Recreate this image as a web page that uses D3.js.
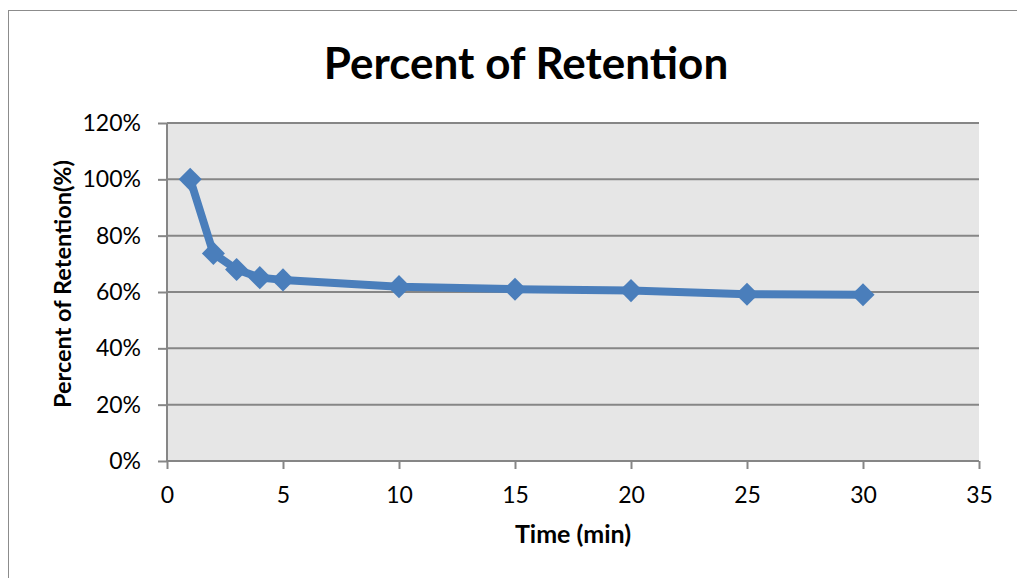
<!DOCTYPE html>
<html>
<head>
<meta charset="utf-8">
<script src="https://cdn.jsdelivr.net/npm/d3@7/dist/d3.min.js"></script>
<style>
  html, body { margin: 0; padding: 0; background: #fff; }
  svg { display: block; }
  text { font-family: Lato, "Open Sans", sans-serif; fill: #000; }
</style>
</head>
<body>
<svg id="chart" width="1017" height="578"></svg>
<script>
// ---- data ----
const times = [1, 2, 3, 4, 5, 10, 15, 20, 25, 30];
const retention = [1.00, 0.737, 0.680, 0.651, 0.643, 0.619, 0.610, 0.605, 0.592, 0.590];
const xTicks = [0, 5, 10, 15, 20, 25, 30, 35];
const yTicks = [0, 0.2, 0.4, 0.6, 0.8, 1.0, 1.2];
const chartTitle = "Percent of Retention";
const xTitle = "Time (min)";
const yTitle = "Percent of Retention(%)";

// ---- layout ----
const svg = d3.select("#chart");
const plot = { left: 167, top: 123, right: 979, bottom: 461 };

const x = d3.scaleLinear().domain([0, 35]).range([plot.left, plot.right]);
const y = d3.scaleLinear().domain([0, 1.2]).range([plot.bottom, plot.top]);

// outer chart border (only top/left visible)
svg.append("rect")
  .attr("x", 8.5).attr("y", 10.5)
  .attr("width", 1100).attr("height", 700)
  .attr("fill", "none").attr("stroke", "#8c8c8c").attr("stroke-width", 1);

// plot background
svg.append("rect")
  .attr("x", plot.left).attr("y", plot.top)
  .attr("width", plot.right - plot.left).attr("height", plot.bottom - plot.top)
  .attr("fill", "#e6e6e6");

const gridColor = "#868686";

// horizontal gridlines
svg.append("g").selectAll("line").data(yTicks.filter(d => d > 0)).join("line")
  .attr("x1", plot.left).attr("x2", plot.right)
  .attr("y1", d => y(d)).attr("y2", d => y(d))
  .attr("stroke", gridColor).attr("stroke-width", 2);

// y axis
const yAxis = d3.axisLeft(y).tickValues(yTicks)
  .tickFormat(d3.format(".0%")).tickSize(9).tickPadding(17);
const gy = svg.append("g").attr("transform", `translate(${plot.left},0)`).call(yAxis);
gy.select(".domain").attr("stroke", gridColor).attr("stroke-width", 2).attr("d", `M0,${plot.top}V${plot.bottom}`);
gy.selectAll(".tick line").attr("stroke", gridColor).attr("stroke-width", 2);
gy.selectAll(".tick text").style("font-size", "23px").attr("fill", "#000");

// x axis
const xAxis = d3.axisBottom(x).tickValues(xTicks).tickSize(8).tickPadding(18);
const gx = svg.append("g").attr("transform", `translate(0,${plot.bottom})`).call(xAxis);
gx.select(".domain").attr("stroke", gridColor).attr("stroke-width", 2).attr("d", `M${plot.left},0H${plot.right}`);
gx.selectAll(".tick line").attr("stroke", gridColor).attr("stroke-width", 2);
gx.selectAll(".tick text").style("font-size", "23px").attr("fill", "#000");

// line
const pts = times.map((t, i) => [t, retention[i]]);
const seriesColor = "#4a7ebb";
svg.append("path").datum(pts)
  .attr("fill", "none").attr("stroke", seriesColor).attr("stroke-width", 8)
  .attr("stroke-linejoin", "round")
  .attr("d", d3.line().x(d => x(d[0])).y(d => y(d[1])));

// diamond markers
const diamond = d3.symbol().type(d3.symbolDiamond2).size(340);
svg.append("g").selectAll("path").data(pts).join("path")
  .attr("transform", d => `translate(${x(d[0])},${y(d[1])})`)
  .attr("d", diamond)
  .attr("fill", seriesColor);

// titles
svg.append("text").attr("x", 526).attr("y", 79)
  .attr("text-anchor", "middle").style("font-size", "44px").style("font-weight", "bold")
  .text(chartTitle);

svg.append("text").attr("x", 573).attr("y", 543)
  .attr("text-anchor", "middle").style("font-size", "25px").style("font-weight", "bold")
  .text(xTitle);

svg.append("text").attr("transform", "translate(71,284) rotate(-90)")
  .attr("text-anchor", "middle").style("font-size", "23.5px").style("font-weight", "bold")
  .text(yTitle);
</script>
</body>
</html>
